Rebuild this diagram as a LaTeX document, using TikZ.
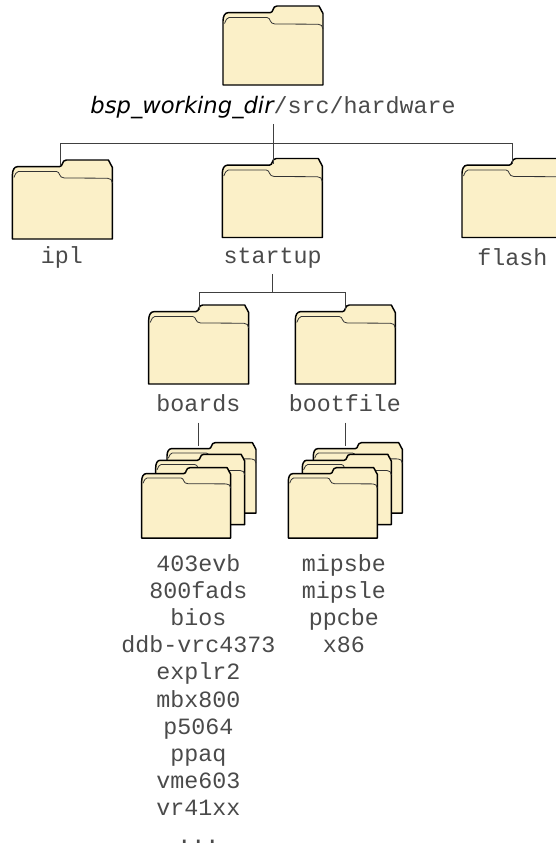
\documentclass[tikz,border=0pt]{standalone}
\usepackage{fontspec}
\setmonofont{Liberation Mono}
\newfontfamily\pathfont{DejaVu Sans}
\definecolor{foldercream}{HTML}{FBF0C8}
\definecolor{dirtext}{HTML}{4A4A4A}
\tikzset{
    folderbody/.style={draw=black, fill=foldercream, line width=1.1pt, line join=round},
    folderfold/.style={draw=black!80, line width=0.6pt},
    branch/.style={draw=black!75, line width=0.6pt},
    dirlabel/.style={anchor=base, inner sep=0pt, text=dirtext, text height=13pt, text depth=7.9pt,
        font=\ttfamily\fontsize{17.5}{20.5}\selectfont},
    dirlist/.style={anchor=north, inner sep=0pt, text=dirtext, align=center,
        font=\ttfamily\fontsize{17.5}{20.4}\selectfont},
    folder/.pic={
        \draw[folderbody] (0,79) -- (0,15) .. controls (0,10) and (2,6.7) .. (5,6.7)
            -- (47,6.7) .. controls (51,6.7) and (49,0) .. (54,0)
            -- (96,0) -- (100,7.5) -- (100,79) -- cycle;
        \draw[folderfold] (1.5,17.5) .. controls (3,14) and (4,11.5) .. (6,11.5)
            -- (44,11.5) .. controls (48,11.5) and (46,18) .. (52,18)
            -- (95,18.2) .. controls (98,18.2) and (100,20) .. (100,23);
        \coordinate (-notch) at (50.5,5);
        \coordinate (-back) at (36,4);
    }
}
\begin{document}
\begin{tikzpicture}[x=0.75pt, y=-0.75pt]
\useasboundingbox (0,0) rectangle (556,847);

% top level
    \pic (rootf) at (223,6) {folder};
    \node[dirlabel] (hwlabel) at (273,113)
        {{\pathfont\itshape\fontsize{17}{20.5}\selectfont\color{black} bsp\_working\_dir}/src/hardware};

% second level
    \pic (iplf) at (12.4,160) {folder};
    \pic (startupf) at (222.3,158.5) {folder};
    \pic (flashf) at (462,158.5) {folder};
    \node[dirlabel] (ipllabel) at (62,263) {ipl};
    \node[dirlabel] (startuplabel) at (272.7,263) {startup};
    \node[dirlabel] (flashlabel) at (512.4,265) {flash};

% branches from the top level
    \coordinate (hwbus) at (273,143.3);
    \draw[branch] (hwlabel.south) -- (hwlabel.south |- startupf-notch);
    \draw[branch] ([xshift=-1.9pt]iplf-notch) |- (hwbus) -| (flashf-notch);

% third level
    \pic (boardsf) at (148.7,305) {folder};
    \pic (bootfilef) at (295.3,305) {folder};
    \node[dirlabel] (boardslabel) at (198.5,411.7) {boards};
    \node[dirlabel] (bootfilelabel) at (345,411.7) {bootfile};

% branches from startup
    \coordinate (startupbus) at (272.7,292.7);
    \draw[branch] (startuplabel.south) -- (startupbus);
    \draw[branch] (boardsf-notch) |- (startupbus) -| (bootfilef-notch);

% stack under boards
    \pic[scale=0.89] (boardsback) at (167,442.7) {folder};
    \pic[scale=0.89] at (155.7,454.3) {folder};
    \pic[scale=0.89] at (141.7,467.7) {folder};
% stack under bootfile
    \pic[scale=0.89] (bootfileback) at (313.3,442.7) {folder};
    \pic[scale=0.89] at (302.3,454.3) {folder};
    \pic[scale=0.89] at (288.3,467.7) {folder};

    \draw[branch] (boardslabel.south) -- (boardslabel.south |- boardsback-back);
    \draw[branch] (bootfilelabel.south) -- (bootfilelabel.south |- bootfileback-back);

% names under the stacks
    \node[dirlist] (boardslist) at (198.5,554) {403evb\\800fads\\bios\\ddb-vrc4373\\explr2\\mbx800\\p5064\\ppaq\\vme603\\vr41xx\\...};
    \node[dirlist] (bootfilelist) at (344,554) {mipsbe\\mipsle\\ppcbe\\x86};

\end{tikzpicture}
\end{document}
